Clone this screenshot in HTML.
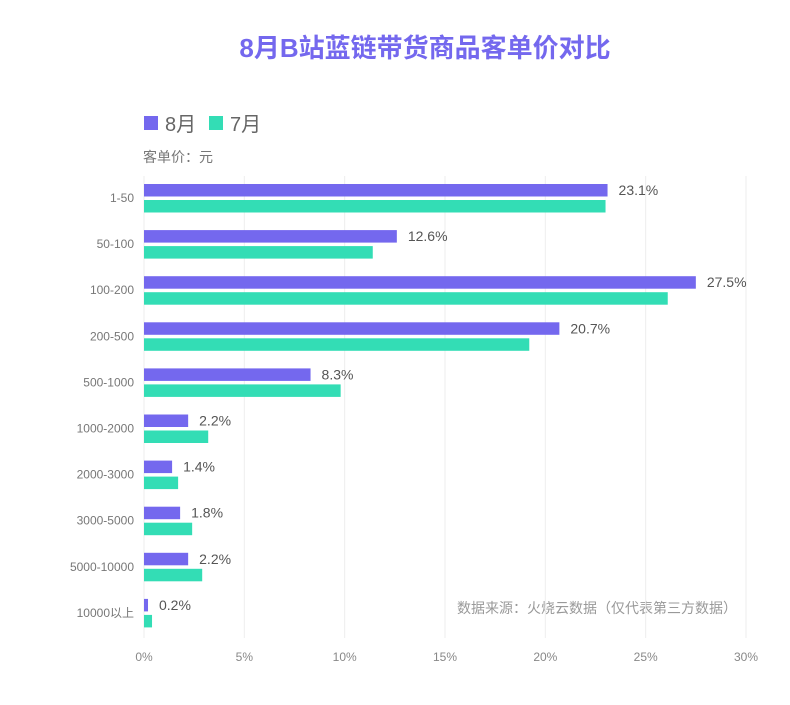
<!DOCTYPE html>
<html><head><meta charset="utf-8"><style>
body{margin:0;background:#fff;width:790px;height:700px;overflow:hidden;font-family:"Liberation Sans","Noto Sans CJK SC",sans-serif}
</style></head><body>
<svg id="c" width="790" height="700" font-family="Liberation Sans, Noto Sans CJK SC, sans-serif">
<text x="425" y="57" text-anchor="middle" font-size="26" font-weight="bold" fill="#7468ee">8月B站蓝链带货商品客单价对比</text>
<g>
<rect x="144" y="116" width="14" height="14" fill="#7468ee"/>
<text x="165" y="131" font-size="20" fill="#666">8月</text>
<rect x="209" y="116" width="14" height="14" fill="#33ddb5"/>
<text x="230" y="131" font-size="20" fill="#666">7月</text>
</g>
<text x="143" y="162" font-size="14" fill="#777">客单价：元</text>
<text x="737" y="613" text-anchor="end" font-size="14" fill="#999">数据来源：火烧云数据（仅代表第三方数据）</text>
<g id="g"></g>
</svg>
<script>
const categories=["1-50","50-100","100-200","200-500","500-1000","1000-2000","2000-3000","3000-5000","5000-10000","10000以上"];
const aug=[23.1,12.6,27.5,20.7,8.3,2.2,1.4,1.8,2.2,0.2];
const jul=[23.0,11.4,26.1,19.2,9.8,3.2,1.7,2.4,2.9,0.4];
const ticks=[0,5,10,15,20,25,30];
const NS="http://www.w3.org/2000/svg",g=document.getElementById('g');
const x=v=>144+v*(746-144)/30;
const top0=176,step=46.1;
function mk(t,a){const e=document.createElementNS(NS,t);for(const k in a)e.setAttribute(k,a[k]);g.appendChild(e);return e;}
ticks.forEach(t=>{
 const l=mk('line',{x1:x(t),x2:x(t),y1:top0,y2:638,stroke:'#eee','stroke-width':1});
 
 
 const tx=mk('text',{x:x(t),y:661,'text-anchor':'middle','font-size':12,fill:'#888'});tx.textContent=t+'%';
 
 
});
categories.forEach((c,i)=>{
 const y0=top0+i*step;
 const lb=mk('text',{x:134,y:y0+26,'text-anchor':'end','font-size':12,fill:'#777'});lb.textContent=c;
 
 
 const b1=mk('rect',{x:x(0),y:y0+8,width:x(aug[i])-x(0),height:12.5,fill:'#7468ee'});
 
 
 const b2=mk('rect',{x:x(0),y:y0+24,width:x(jul[i])-x(0),height:12.5,fill:'#33ddb5'});
 
 
 const v=mk('text',{x:x(aug[i])+11,y:y0+19,'font-size':14,fill:'#555'});v.textContent=aug[i].toFixed(1)+'%';
 
 
});
</script>
</body></html>
